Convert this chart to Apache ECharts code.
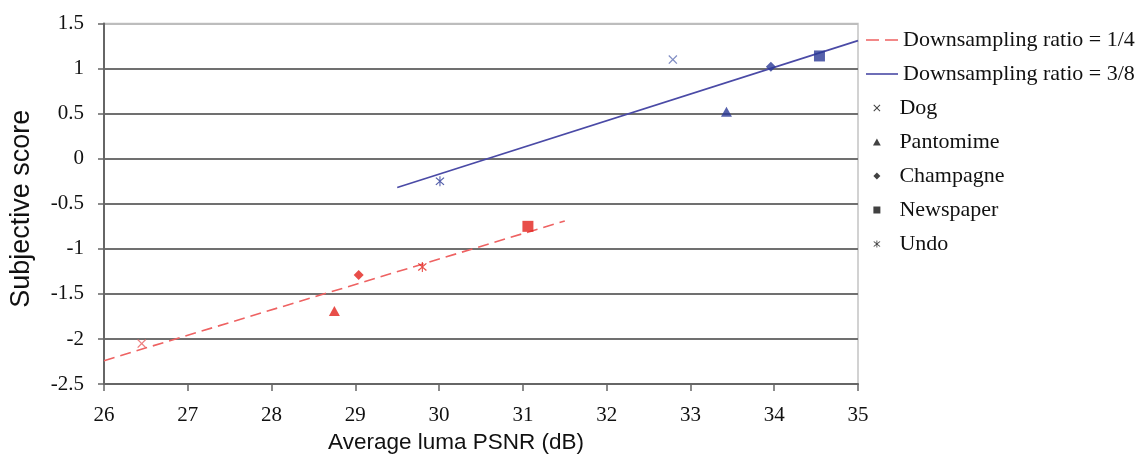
<!DOCTYPE html>
<html>
<head>
<meta charset="utf-8">
<script src="https://cdn.jsdelivr.net/npm/echarts@6/dist/echarts.min.js"></script>
<style>
  html, body { margin: 0; padding: 0; background: #fff; }
  #chart { width: 1141px; height: 459px; }
</style>
</head>
<body>
<div id="chart"></div>
<script>
// scenes and their markers
var scenes = ['Dog', 'Pantomime', 'Champagne', 'Newspaper', 'Undo'];

// downsampling ratio = 1/4 (red)
var psnrQuarter = [26.45, 28.75, 29.04, 31.06, 29.8];
var scoreQuarter = [-2.05, -1.69, -1.29, -0.75, -1.2];

// downsampling ratio = 3/8 (blue)
var psnrThreeEighths = [32.79, 33.43, 33.96, 34.54, 30.01];
var scoreThreeEighths = [1.1, 0.52, 1.02, 1.14, -0.25];

// fitted trend lines (end points)
var fitQuarterX = [26, 31.5];
var fitQuarterY = [-2.24, -0.69];
var fitThreeEighthsX = [29.5, 35];
var fitThreeEighthsY = [-0.32, 1.31];

var lineNames = ['Downsampling ratio = 1/4', 'Downsampling ratio = 3/8'];

var RED = '#e2221c';
var BLUE = '#2a3896';
var RED_LINE = '#ee6262';
var BLUE_LINE = '#4a4aa6';

// marker shapes (filled paths)
var markerPaths = {
  Dog: 'path://M0,1 L1,0 L5,4 L9,0 L10,1 L6,5 L10,9 L9,10 L5,6 L1,10 L0,9 L4,5 Z',
  Pantomime: 'path://M5,0 L10,9 L0,9 Z',
  Champagne: 'path://M5,0 L10,5 L5,10 L0,5 Z',
  Newspaper: 'path://M0,0 L10,0 L10,10 L0,10 Z',
  Undo: 'path://M0,1.8 L1,1 L5,4.2 L9,1 L10,1.8 L5.9,5 L10,8.2 L9,9 L5,5.8 L1,9 L0,8.2 L4.1,5 Z M4.4,0 L5.6,0 L5.6,10 L4.4,10 Z'
};
var markerSizes = {
  Dog: [9, 9],
  Pantomime: [11, 10],
  Champagne: [10, 10],
  Newspaper: [11, 11],
  Undo: [9, 10]
};
var dogColors = ['#e86060', '#6070b4'];

// legend icons for the two fitted lines
var dashedIcon = 'path://M0,0 L13,0 L13,1.6 L0,1.6 Z M19,0 L32,0 L32,1.6 L19,1.6 Z';
var solidIcon = 'path://M0,0 L32,0 L32,1.6 L0,1.6 Z';

function pairs(xs, ys) {
  return xs.map(function (x, i) { return [x, ys[i]]; });
}

var series = [
  {
    name: lineNames[0],
    type: 'line',
    data: pairs(fitQuarterX, fitQuarterY),
    showSymbol: false,
    symbol: 'none',
    lineStyle: { color: RED_LINE, width: 1.6, type: [11, 6] },
    itemStyle: { color: RED_LINE },
    z: 3
  },
  {
    name: lineNames[1],
    type: 'line',
    data: pairs(fitThreeEighthsX, fitThreeEighthsY),
    showSymbol: false,
    symbol: 'none',
    lineStyle: { color: BLUE_LINE, width: 1.6 },
    itemStyle: { color: BLUE_LINE },
    z: 3
  }
];

scenes.forEach(function (name, i) {
  var red = name === 'Dog' ? dogColors[0] : RED;
  var blue = name === 'Dog' ? dogColors[1] : BLUE;
  series.push({
    name: name,
    type: 'scatter',
    symbol: markerPaths[name],
    symbolSize: markerSizes[name],
    itemStyle: { color: '#111' },
    data: [
      { value: [psnrQuarter[i], scoreQuarter[i]], itemStyle: { color: red } },
      { value: [psnrThreeEighths[i], scoreThreeEighths[i]], itemStyle: { color: blue } }
    ],
    z: 4
  });
});

var legendText = {
  fontFamily: 'Liberation Serif',
  fontSize: 22,
  color: '#111'
};

var option = {
  animation: false,
  grid: {
    left: 103,
    right: 283,
    top: 23.5,
    bottom: 74.7,
    show: true,
    borderColor: '#c4c4c4',
    borderWidth: 1.5
  },
  legend: [
    {
      data: [
        { name: lineNames[0], icon: dashedIcon },
        { name: lineNames[1], icon: solidIcon }
      ],
      orient: 'vertical',
      left: 866,
      top: 29,
      padding: 0,
      itemWidth: 32,
      itemHeight: 14,
      itemGap: 12,
      textStyle: legendText
    },
    {
      data: scenes,
      orient: 'vertical',
      left: 873,
      top: 97,
      padding: 0,
      itemWidth: 35,
      itemHeight: 7,
      itemGap: 12,
      symbolKeepAspect: true,
      textStyle: legendText
    }
  ],
  xAxis: {
    type: 'value',
    min: 26,
    max: 35,
    interval: 1,
    name: 'Average luma PSNR (dB)',
    nameLocation: 'middle',
    nameGap: 46,
    nameTextStyle: {
      fontFamily: 'Liberation Sans',
      fontSize: 22.5,
      color: '#111',
      padding: [0, 50, 0, 0]
    },
    axisLine: { onZero: false, lineStyle: { color: '#666', width: 2 } },
    axisTick: { show: true, inside: false, length: 7, lineStyle: { color: '#666', width: 1.5 } },
    axisLabel: { margin: 21, fontFamily: 'Liberation Serif', fontSize: 21, color: '#111' },
    splitLine: { show: false }
  },
  yAxis: {
    type: 'value',
    min: -2.5,
    max: 1.5,
    interval: 0.5,
    name: 'Subjective score',
    nameLocation: 'middle',
    nameGap: 69,
    nameTextStyle: {
      fontFamily: 'Liberation Sans',
      fontSize: 27,
      color: '#111',
      padding: [0, 10, 0, 0]
    },
    axisLine: { show: true, onZero: false, lineStyle: { color: '#666', width: 2 } },
    axisTick: { show: true, inside: false, length: 6, lineStyle: { color: '#666', width: 1.5 } },
    axisLabel: { margin: 20, fontFamily: 'Liberation Serif', fontSize: 21, color: '#111' },
    splitLine: {
      show: true,
      lineStyle: {
        color: ['#707070', '#707070', '#707070', '#707070', '#707070', '#707070', '#707070', '#707070', '#bdbdbd'],
        width: 2
      }
    }
  },
  series: series
};

var chart = echarts.init(document.getElementById('chart'));
chart.setOption(option);
window.addEventListener('resize', function () {
  chart.resize();
});
</script>
</body>
</html>
